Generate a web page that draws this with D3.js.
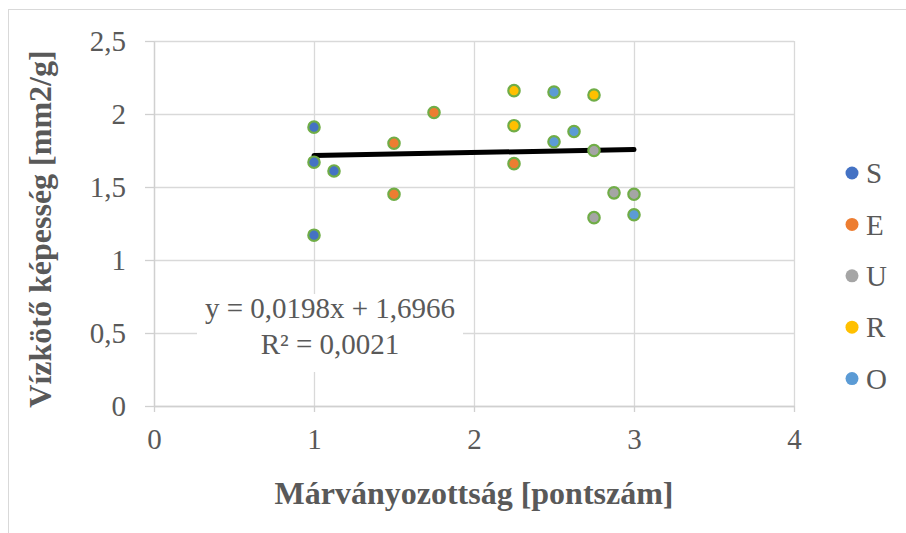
<!DOCTYPE html>
<html>
<head>
<meta charset="utf-8">
<script src="https://cdn.jsdelivr.net/npm/d3@7"></script>
<style>
    body { margin: 0; background: #fff; }
    text { font-family: "Liberation Serif", "Times New Roman", serif; fill: #595959; }
</style>
</head>
<body>
<div id="chart"></div>
<script>
"use strict";

// series names and colours
const seriesNames = ["S", "E", "U", "R", "O"];
const seriesColors = ["#4472C4", "#ED7D31", "#A5A5A5", "#FFC000", "#5B9BD5"];

// values
const sX = [1, 1, 1.125, 1];
const sY = [1.91, 1.67, 1.61, 1.17];
const eX = [1.75, 1.5, 1.5, 2.25];
const eY = [2.01, 1.80, 1.45, 1.66];
const uX = [2.75, 2.875, 3, 2.75];
const uY = [1.75, 1.46, 1.45, 1.29];
const rX = [2.25, 2.75, 2.25];
const rY = [2.16, 2.13, 1.92];
const oX = [2.5, 2.625, 2.5, 3];
const oY = [2.15, 1.88, 1.81, 1.31];

const xTicks = [0, 1, 2, 3, 4];
const yTicks = [0, 0.5, 1, 1.5, 2, 2.5];

// linear trendline
const trendSlope = 0.0198;
const trendIntercept = 1.6966;
const trendRange = [1, 3];
const trendLabel = ["y = 0,0198x + 1,6966", "R² = 0,0021"];

const xTitle = "Márványozottság [pontszám]";
const yTitle = "Vízkötő képesség [mm2/g]";

const seriesX = [sX, eX, uX, rX, oX];
const seriesY = [sY, eY, uY, rY, oY];

const width = 906, height = 533;
const plot = {left: 154, right: 794, top: 41, bottom: 406};

const svg = d3.select("#chart").append("svg")
    .attr("width", width).attr("height", height);

svg.append("rect").attr("width", width).attr("height", height).attr("fill", "#fff");
// chart frame (cropped at right/bottom)
svg.append("rect").attr("x", 8.5).attr("y", 9.5)
    .attr("width", width + 20).attr("height", height + 20)
    .attr("fill", "none").attr("stroke", "#d9d9d9");

const x = d3.scaleLinear().domain([0, 4]).range([plot.left, plot.right]);
const y = d3.scaleLinear().domain([0, 2.5]).range([plot.bottom, plot.top]);

const fmt = d => String(d).replace(".", ",");

// gridlines
svg.append("g").attr("transform", `translate(0,${plot.bottom})`)
    .call(d3.axisBottom(x).tickValues(xTicks).tickSize(-(plot.bottom - plot.top)).tickFormat(""))
    .call(g => g.select(".domain").remove())
    .call(g => g.selectAll("line").attr("stroke", "#d9d9d9").attr("stroke-width", 1.3));
svg.append("g").attr("transform", `translate(${plot.left},0)`)
    .call(d3.axisLeft(y).tickValues(yTicks).tickSize(-(plot.right - plot.left)).tickFormat(""))
    .call(g => g.select(".domain").remove())
    .call(g => g.selectAll("line").attr("stroke", "#d9d9d9").attr("stroke-width", 1.3));

// axes
const xAxis = svg.append("g").attr("transform", `translate(0,${plot.bottom})`)
    .call(d3.axisBottom(x).tickValues(xTicks).tickSize(6).tickSizeOuter(0).tickPadding(16).tickFormat(fmt));
const yAxis = svg.append("g").attr("transform", `translate(${plot.left},0)`)
    .call(d3.axisLeft(y).tickValues(yTicks).tickSize(9).tickSizeOuter(0).tickPadding(19).tickFormat(fmt));
[xAxis, yAxis].forEach(g => {
    g.select(".domain").attr("stroke", "#d0d0d0").attr("stroke-width", 1.3);
    g.selectAll(".tick line").attr("stroke", "#d0d0d0").attr("stroke-width", 1.3);
    g.selectAll(".tick text").attr("fill", "#595959").style("font-size", "29px")
        .style("font-family", "'Liberation Serif', serif");
});
xAxis.selectAll(".tick text").attr("dy", "0.72em");

// trendline
svg.append("line")
    .attr("x1", x(trendRange[0])).attr("y1", y(trendSlope * trendRange[0] + trendIntercept))
    .attr("x2", x(trendRange[1])).attr("y2", y(trendSlope * trendRange[1] + trendIntercept))
    .attr("stroke", "#000").attr("stroke-width", 5).attr("stroke-linecap", "round");

// points
seriesNames.forEach((name, i) => {
    svg.append("g").selectAll("circle")
        .data(seriesX[i].map((v, j) => [v, seriesY[i][j]]))
        .join("circle")
        .attr("cx", d => x(d[0])).attr("cy", d => y(d[1]))
        .attr("r", 5.7)
        .attr("fill", seriesColors[i])
        .attr("stroke", "#70AD47").attr("stroke-width", 2.2);
});

// trendline label with white background
svg.append("rect").attr("x", 197).attr("y", 294).attr("width", 266).attr("height", 78).attr("fill", "#fff");
svg.append("text").attr("x", 330).attr("y", 318).attr("dy", "0.33em")
    .attr("text-anchor", "middle").style("font-size", "29px")
    .selectAll("tspan").data(trendLabel).join("tspan")
    .attr("x", 330).attr("dy", (d, i) => i === 0 ? 0 : 36).text(d => d);

// axis titles
svg.append("text").attr("x", 474).attr("y", 493).attr("dy", "0.35em")
    .attr("text-anchor", "middle").style("font-size", "32px").style("font-weight", "bold")
    .text(xTitle);
svg.append("text").attr("transform", "translate(40,229) rotate(-90)").attr("dy", "0.35em")
    .attr("text-anchor", "middle").style("font-size", "32px").style("font-weight", "bold")
    .text(yTitle);

// legend
const legend = svg.append("g").attr("transform", "translate(852,173)");
const rows = legend.selectAll("g").data(seriesNames).join("g")
    .attr("transform", (d, i) => `translate(0,${i * 51.4})`);
rows.append("circle").attr("r", 6.5).attr("fill", (d, i) => seriesColors[i]);
rows.append("text").attr("x", 14).attr("dy", "0.35em").style("font-size", "29px").text(d => d);
</script>
</body>
</html>
